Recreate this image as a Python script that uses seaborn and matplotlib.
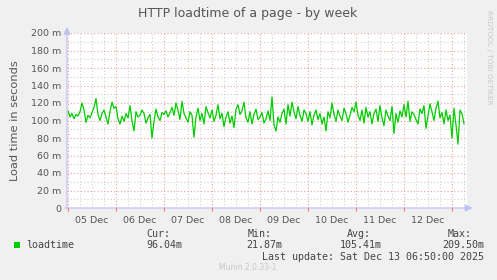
import matplotlib
matplotlib.use("Agg")
import matplotlib.pyplot as plt
import matplotlib.transforms as mtransforms
import seaborn as sns
import pandas as pd
import numpy as np

# ---- data ----
start_time = "2025-12-05 00:00"
dec05 = [111, 104, 108, 102, 107, 105, 110, 120, 112, 98, 106, 103, 109, 115, 125, 107, 100, 108, 112, 104, 96, 110, 121, 114]
dec06 = [116, 102, 96, 105, 99, 108, 103, 117, 100, 88, 110, 104, 106, 112, 108, 97, 103, 107, 80, 99, 113, 104, 100, 109]
dec07 = [107, 111, 104, 109, 115, 106, 120, 112, 101, 122, 108, 103, 98, 110, 106, 81, 104, 114, 100, 108, 96, 116, 109, 103]
dec08 = [112, 99, 106, 118, 102, 108, 93, 104, 110, 97, 105, 92, 113, 118, 107, 111, 121, 103, 98, 110, 96, 107, 113, 101]
dec09 = [104, 109, 97, 102, 111, 100, 127, 95, 88, 104, 98, 108, 113, 96, 118, 105, 121, 110, 102, 116, 106, 99, 112, 108]
dec10 = [99, 110, 95, 106, 112, 101, 108, 96, 104, 88, 110, 103, 120, 107, 99, 112, 105, 100, 114, 108, 98, 106, 115, 110]
dec11 = [121, 106, 100, 112, 97, 115, 104, 110, 96, 108, 113, 99, 117, 103, 94, 112, 105, 100, 116, 85, 108, 98, 111, 104]
dec12 = [118, 104, 122, 99, 110, 107, 101, 96, 113, 108, 117, 91, 105, 119, 110, 100, 114, 122, 103, 109, 96, 112, 100, 106]
dec13 = [80, 114, 95, 73, 112, 108, 96]

series_name = "loadtime"
y_ticks = [0, 20, 40, 60, 80, 100, 120, 140, 160, 180, 200]
y_tick_labels = ["0"] + [f"{v} m" for v in y_ticks[1:]]
day_labels = ["05 Dec", "06 Dec", "07 Dec", "08 Dec", "09 Dec", "10 Dec", "11 Dec", "12 Dec"]
stat_cur, stat_min, stat_avg, stat_max = "96.04m", "21.87m", "105.41m", "209.50m"
title = "HTTP loadtime of a page - by week"
ylabel = "Load time in seconds"
last_update = "Last update: Sat Dec 13 06:50:00 2025"
footer = "Munin 2.0.33-1"
watermark = "RRDTOOL / TOBI OETIKER"

values = dec05 + dec06 + dec07 + dec08 + dec09 + dec10 + dec11 + dec12 + dec13
times = pd.date_range(start_time, periods=len(values), freq="h")
df = pd.DataFrame({"time": times, "value": values})

# ---- figure ----
W, H = 497, 280
sns.set_theme(style="white")
plt.rcParams["font.family"] = ["DejaVu Sans"]
fig = plt.figure(figsize=(W / 100, H / 100), dpi=100)
fig.patch.set_facecolor("#F0F0F0")

L, R, T, B = 67, 467, 33, 208
ax = fig.add_axes([L / W, 1 - B / H, (R - L) / W, (B - T) / H])
ax.set_facecolor("white")

x0 = pd.Timestamp("2025-12-04 23:30")
x1 = pd.Timestamp("2025-12-13 07:30")
ax.set_xlim(x0, x1)
ax.set_ylim(0, 200)

# grid: minor gray dotted, major red dotted
minor_y = np.arange(10, 201, 20)
for v in minor_y:
    ax.axhline(v, color="#CFCFCF", lw=0.8, ls=(0, (1, 2)), zorder=1)
six_h = pd.date_range("2025-12-05 06:00", x1, freq="6h")
for t in six_h:
    if t.hour != 0:
        ax.axvline(t, color="#CFCFCF", lw=0.8, ls=(0, (1, 2)), zorder=1)
for v in y_ticks[1:]:
    ax.axhline(v, color="#F2A0A0", lw=0.8, ls=(0, (1, 2)), zorder=1.5)
midnights = pd.date_range("2025-12-05", "2025-12-13", freq="D")
for t in midnights:
    ax.axvline(t, color="#F2A0A0", lw=0.8, ls=(0, (1, 2)), zorder=1.5)

sns.lineplot(data=df, x="time", y="value", ax=ax, color="#00CC00", lw=0.9, zorder=3, legend=False)

# ticks
ax.set_yticks(y_ticks)
ax.set_yticklabels(y_tick_labels)
noons = pd.date_range("2025-12-05 12:00", periods=len(day_labels), freq="D")
ax.set_xticks(noons)
ax.set_xticklabels(day_labels)
ax.tick_params(axis="both", length=0, labelsize=6.8, labelcolor="#555555")
ax.tick_params(axis="y", pad=4)
ax.tick_params(axis="x", pad=6)
ax.set_xlabel("")
ax.set_ylabel(ylabel, fontsize=8.2, color="#555555", labelpad=8)

# red tick marks below x-axis at midnights
trans_x = mtransforms.blended_transform_factory(ax.transData, ax.transAxes)
for t in midnights:
    ax.plot([t, t], [0, -0.018], color="#F08080", lw=0.8, transform=trans_x, clip_on=False, zorder=4)

for s in ax.spines.values():
    s.set_visible(False)

# axes with arrows
axis_col = "#C0C0F4"
ax.annotate("", xy=(0, 1.035), xytext=(0, 0), xycoords="axes fraction",
            arrowprops=dict(arrowstyle="-|>,head_length=0.35,head_width=0.17", color=axis_col, lw=0.9, shrinkA=0, shrinkB=0))
ax.annotate("", xy=(1.014, 0), xytext=(-0.005, 0), xycoords="axes fraction",
            arrowprops=dict(arrowstyle="-|>,head_length=0.35,head_width=0.17", color=axis_col, lw=0.9, shrinkA=0, shrinkB=0))

# title
fig.text(248 / W, 1 - 13 / H, title, ha="center", va="center", fontsize=9, color="#555555")
# watermark
fig.text(489 / W, 1 - 57 / H, watermark, ha="center", va="center", rotation=270, fontsize=5.3, color="#C8C8C8")

# legend / stats area (monospace)
mono = dict(family="DejaVu Sans Mono", fontsize=7.2, color="#444444")
fig.patches.append(plt.Rectangle((14 / W, 1 - 248 / H), 6 / W, 6.5 / H, transform=fig.transFigure,
                                 facecolor="#00CC00", edgecolor="none"))
fig.text(26 / W, 1 - 245 / H, series_name, ha="left", va="center", **mono)
row1, row2 = 1 - 234 / H, 1 - 245 / H
fig.text(146 / W, row1, "Cur:", ha="left", va="center", **mono)
fig.text(146 / W, row2, stat_cur, ha="left", va="center", **mono)
fig.text(248 / W, row1, "Min:", ha="left", va="center", **mono)
fig.text(246 / W, row2, stat_min, ha="left", va="center", **mono)
fig.text(347 / W, row1, "Avg:", ha="left", va="center", **mono)
fig.text(340 / W, row2, stat_avg, ha="left", va="center", **mono)
fig.text(448 / W, row1, "Max:", ha="left", va="center", **mono)
fig.text(442 / W, row2, stat_max, ha="left", va="center", **mono)
fig.text(262 / W, 1 - 257.5 / H, last_update, ha="left", va="center", **mono)
fig.text(248 / W, 1 - 268 / H, footer, ha="center", va="center", fontsize=5.5, color="#C8C8C8")

fig.savefig("out.png", dpi=100, facecolor=fig.get_facecolor())
